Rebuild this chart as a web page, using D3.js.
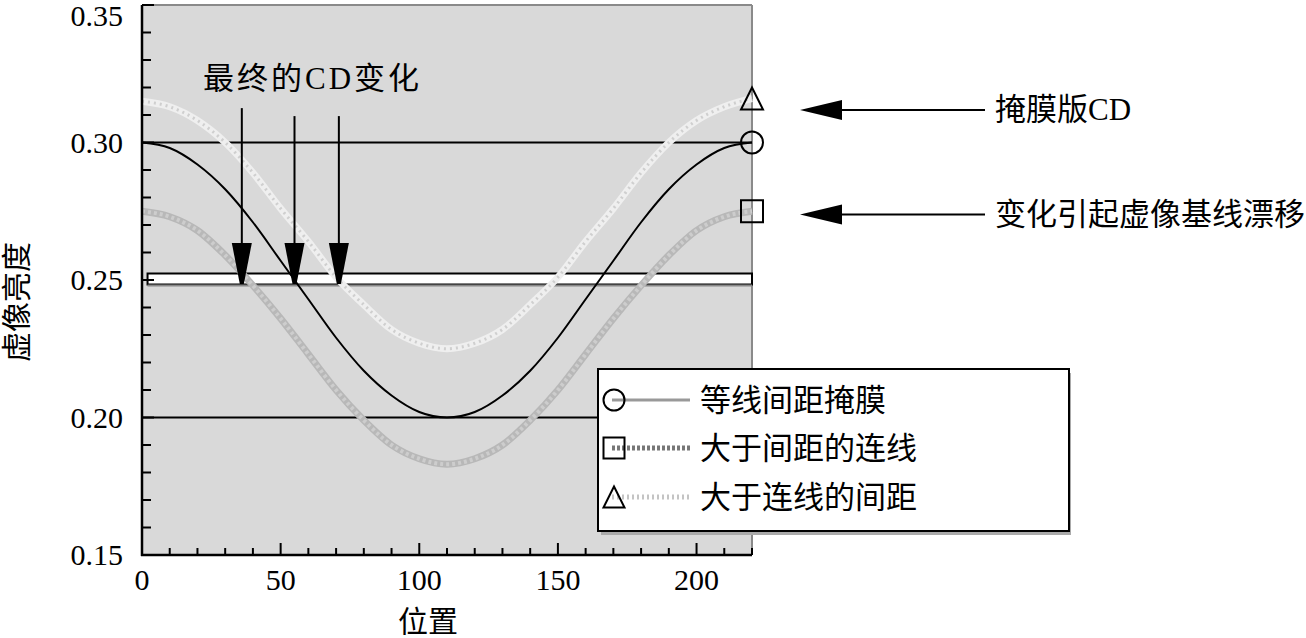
<!DOCTYPE html>
<html><head><meta charset="utf-8">
<script src="https://cdn.jsdelivr.net/npm/d3@7"></script>
<style>
html,body{margin:0;padding:0;background:#fff;}
svg{display:block;}
</style></head>
<body>
<svg id="c" width="1306" height="638"></svg>
<script>
// ---- data ----
const positions = [0,10,20,30,40,50,60,70,80,90,100,110,120,130,140,150,160,170,180,190,200,210,220];
const equalMask = [0.300,0.298,0.292,0.283,0.271,0.257,0.243,0.229,0.217,0.208,0.202,0.200,0.202,0.208,0.217,0.229,0.243,0.257,0.271,0.283,0.292,0.298,0.300];
const lineLarger = [0.275,0.273,0.268,0.259,0.248,0.236,0.223,0.210,0.199,0.190,0.185,0.183,0.185,0.190,0.199,0.210,0.223,0.236,0.248,0.259,0.268,0.273,0.275];
const spaceLarger = [0.315,0.313,0.308,0.300,0.289,0.276,0.264,0.251,0.241,0.232,0.227,0.225,0.227,0.232,0.241,0.251,0.264,0.276,0.289,0.300,0.308,0.313,0.316];
const xTicks = [0,50,100,150,200];
const yTicks = [0.15,0.20,0.25,0.30,0.35];
const refLines = [0.30,0.20];
const threshold = 0.25;
const cdArrowX = [36,55,71];
const cdArrowTop = [0.3125,0.3096,0.3096];
const legendLabels = ["等线间距掩膜","大于间距的连线","大于连线的间距"];
const annLabels = ["掩膜版CD","变化引起虚像基线漂移"];
const annValues = [0.3118,0.2738];
const endMarkers = [{shape:"triangle",v:0.316},{shape:"circle",v:0.300},{shape:"square",v:0.275}];

// ---- layout ----
const L=142,R=752,T=5,B=555;
const svg=d3.select("#c");
const x=d3.scaleLinear().domain([0,220]).range([L,R]);
const y=d3.scaleLinear().domain([0.15,0.35]).range([B,T]);
const serif="'Liberation Serif','Times New Roman',serif";
const cjk="'Liberation Serif','Noto Sans CJK SC','Noto Sans CJK JP',serif";
const FS=31;

svg.append("rect").attr("x",L).attr("y",T).attr("width",R-L).attr("height",B-T).attr("fill","#d9d9d9");
svg.append("line").attr("x1",L).attr("x2",R).attr("y1",T).attr("y2",T).attr("stroke","#8a8a8a").attr("stroke-width",2);
svg.append("line").attr("x1",R).attr("x2",R).attr("y1",T).attr("y2",B).attr("stroke","#8a8a8a").attr("stroke-width",2);

// ref lines
svg.selectAll(".ref").data(refLines).join("line")
  .attr("x1",L).attr("x2",R).attr("y1",d=>y(d)).attr("y2",d=>y(d))
  .attr("stroke","#000").attr("stroke-width",2);

// threshold bar
const bh=11;
svg.append("rect").attr("x",x(2)).attr("y",y(threshold)-bh/2-1).attr("width",R-x(2)).attr("height",bh)
  .attr("fill","#fff").attr("stroke","#000").attr("stroke-width",2);
svg.append("line").attr("x1",x(2)).attr("x2",R).attr("y1",y(threshold)+bh/2).attr("y2",y(threshold)+bh/2)
  .attr("stroke","#888").attr("stroke-width",2);

const line=d3.line().x((d,i)=>x(positions[i])).y(d=>y(d)).curve(d3.curveMonotoneX);

// lower gray curve
svg.append("path").attr("d",line(lineLarger)).attr("fill","none").attr("stroke","#b8b8b8").attr("stroke-width",7);
svg.append("path").attr("d",line(lineLarger)).attr("fill","none").attr("stroke","#cdcdcd").attr("stroke-width",4).attr("stroke-dasharray","3,3");
// upper light curve
svg.append("path").attr("d",line(spaceLarger)).attr("fill","none").attr("stroke","#efefef").attr("stroke-width",7);
svg.append("path").attr("d",line(spaceLarger)).attr("fill","none").attr("stroke","#cfcfcf").attr("stroke-width",3).attr("stroke-dasharray","2,4");
// main black curve
svg.append("path").attr("d",line(equalMask)).attr("fill","none").attr("stroke","#000").attr("stroke-width",2);

// CD arrows
cdArrowX.forEach((v,i)=>{
  const xx=x(v), tip=y(threshold)+4, top=y(cdArrowTop[i]);
  svg.append("line").attr("x1",xx).attr("x2",xx).attr("y1",top).attr("y2",tip-30).attr("stroke","#000").attr("stroke-width",2);
  svg.append("path").attr("d",`M${xx-10},${tip-41}L${xx+10},${tip-41}L${xx+2},${tip}L${xx-2},${tip}Z`).attr("fill","#000");
});
svg.append("text").attr("x",203).attr("y",89).attr("font-family",cjk).attr("font-size",FS).attr("letter-spacing",3).attr("fill","#000").text("最终的CD变化");

// axes
svg.append("line").attr("x1",L).attr("x2",L).attr("y1",T).attr("y2",B+1).attr("stroke","#000").attr("stroke-width",2.5);
svg.append("line").attr("x1",L-1).attr("x2",R).attr("y1",B).attr("y2",B).attr("stroke","#000").attr("stroke-width",2.5);
const xMinor=d3.range(10,221,10).filter(v=>!xTicks.includes(v));
svg.selectAll(".xmi").data(xMinor).join("line").attr("x1",d=>x(d)).attr("x2",d=>x(d)).attr("y1",B).attr("y2",B-7).attr("stroke","#000").attr("stroke-width",2);
svg.selectAll(".xma").data(xTicks.filter(d=>d>0)).join("line").attr("x1",d=>x(d)).attr("x2",d=>x(d)).attr("y1",B).attr("y2",B-12).attr("stroke","#000").attr("stroke-width",2);
const yMinor=d3.range(0.16,0.35,0.01).filter(v=>!yTicks.some(t=>Math.abs(t-v)<1e-6));
svg.selectAll(".ymi").data(yMinor).join("line").attr("x1",L).attr("x2",L+9).attr("y1",d=>y(d)).attr("y2",d=>y(d)).attr("stroke","#000").attr("stroke-width",2);
svg.selectAll(".yma").data(yTicks).join("line").attr("x1",L).attr("x2",L+12).attr("y1",d=>y(d)).attr("y2",d=>y(d)).attr("stroke","#000").attr("stroke-width",2);

svg.selectAll(".xl").data(xTicks).join("text").attr("x",d=>x(d)).attr("y",590).attr("text-anchor","middle")
  .attr("font-family",serif).attr("font-size",30).text(d=>d);
svg.selectAll(".yl").data(yTicks).join("text").attr("x",123).attr("y",d=>Math.max(y(d)+10,26)).attr("text-anchor","end")
  .attr("font-family",serif).attr("font-size",30).text(d=>d3.format(".2f")(d));
svg.append("text").attr("x",428).attr("y",632).attr("text-anchor","middle").attr("font-family",cjk).attr("font-size",30).text("位置");
svg.append("text").attr("transform","translate(27,302) rotate(-90)").attr("text-anchor","middle").attr("font-family",cjk).attr("font-size",30).text("虚像亮度");

// markers
function marker(g,shape,cx,cy,s){
  if(shape==="circle") g.append("circle").attr("cx",cx).attr("cy",cy).attr("r",s*0.5).attr("fill","none").attr("stroke","#000").attr("stroke-width",2);
  else if(shape==="square") g.append("rect").attr("x",cx-s/2).attr("y",cy-s/2).attr("width",s).attr("height",s).attr("fill","none").attr("stroke","#000").attr("stroke-width",2);
  else g.append("path").attr("d",`M${cx},${cy-s/2}L${cx+s/2},${cy+s/2}L${cx-s/2},${cy+s/2}Z`).attr("fill","none").attr("stroke","#000").attr("stroke-width",2);
}
endMarkers.forEach(m=>marker(svg,m.shape,x(220),y(m.v),22));

// right annotations
annValues.forEach((v,i)=>{
  const yy=y(v);
  svg.append("line").attr("x1",842).attr("x2",985).attr("y1",yy).attr("y2",yy).attr("stroke","#000").attr("stroke-width",2);
  svg.append("path").attr("d",`M800,${yy}L842,${yy-10}L842,${yy+10}Z`).attr("fill","#000");
  svg.append("text").attr("x",995).attr("y",yy+10).attr("font-family",cjk).attr("font-size",FS).text(annLabels[i]);
});

// legend
const lg=svg.append("g");
lg.append("rect").attr("x",601).attr("y",373).attr("width",470).attr("height",162).attr("fill","#aaa");
lg.append("rect").attr("x",598).attr("y",369).attr("width",471).attr("height",162).attr("fill","#fff").attr("stroke","#000").attr("stroke-width",2);
const ly=[400,448,497];
const lstyles=[{c:"#999",w:3,d:null},{c:"#777",w:5,d:"3,2"},{c:"#c4c4c4",w:5,d:"2,3"}];
const shapes=["circle","square","triangle"];
ly.forEach((yy,i)=>{
  lg.append("line").attr("x1",612).attr("x2",690).attr("y1",yy).attr("y2",yy).attr("stroke",lstyles[i].c).attr("stroke-width",lstyles[i].w).attr("stroke-dasharray",lstyles[i].d);
  marker(lg,shapes[i],614,yy,21);
  lg.append("text").attr("x",700).attr("y",yy+11).attr("font-family",cjk).attr("font-size",FS).text(legendLabels[i]);
});
</script>
</body></html>
